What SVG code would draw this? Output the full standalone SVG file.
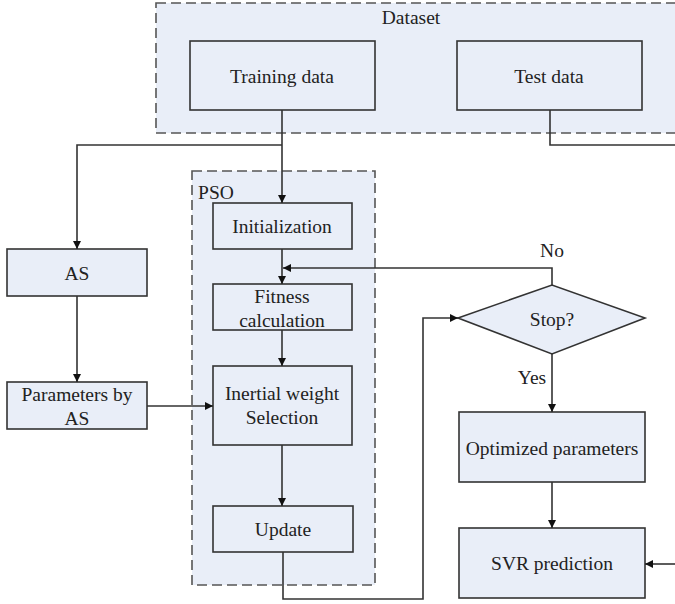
<svg xmlns="http://www.w3.org/2000/svg" width="675" height="604" viewBox="0 0 675 604" font-family="'Liberation Serif', Tinos, 'Times New Roman', 'DejaVu Serif', serif">
<style>
.box{fill:#e9eef8;stroke:#333;stroke-width:1.6}
.grp{fill:#e9eef8;stroke:#555;stroke-width:1.6;stroke-dasharray:10 5}
.ln{fill:none;stroke:#333;stroke-width:1.6}
text{font-family:'Liberation Serif', Tinos, 'Times New Roman', 'DejaVu Serif', serif;font-size:19.5px;fill:#222;text-anchor:middle;dominant-baseline:central}
</style>
<defs>
<marker id="ah" viewBox="0 0 10 10" refX="10" refY="5" markerWidth="8" markerHeight="8" markerUnits="userSpaceOnUse" orient="auto">
<path d="M0,0 L10,5 L0,10 z" fill="#111"/>
</marker>
</defs>
<g id="dataset">
<rect class="grp" x="156" y="3" width="540" height="130"/>
<text x="411" y="17">Dataset</text>
</g>
<g id="pso">
<rect class="grp" x="192" y="171" width="183" height="414"/>
<text x="216" y="192">PSO</text>
</g>
<g id="training"><rect class="box" x="190" y="41" width="185" height="69"/><text x="282" y="76">Training data</text></g>
<g id="test"><rect class="box" x="457" y="41" width="185" height="69"/><text x="549" y="76">Test data</text></g>
<g id="init"><rect class="box" x="213" y="203" width="139" height="46"/><text x="282" y="226">Initialization</text></g>
<g id="fitness"><rect class="box" x="213" y="284" width="139" height="46"/><text x="282" y="296">Fitness</text><text x="282" y="320">calculation</text></g>
<g id="inertial"><rect class="box" x="213" y="366" width="139" height="79"/><text x="282" y="393">Inertial weight</text><text x="282" y="417">Selection</text></g>
<g id="update"><rect class="box" x="213" y="506" width="140" height="46"/><text x="283" y="529">Update</text></g>
<g id="as"><rect class="box" x="7" y="249" width="140" height="47"/><text x="77" y="273">AS</text></g>
<g id="params"><rect class="box" x="7" y="382" width="140" height="47"/><text x="77" y="394">Parameters by</text><text x="77" y="418">AS</text></g>
<g id="stop"><polygon class="box" points="458,318 552,285 645,318 552,354"/><text x="552" y="319">Stop?</text></g>
<g id="optimized"><rect class="box" x="459" y="412" width="186" height="70"/><text x="552" y="448">Optimized parameters</text></g>
<g id="svr"><rect class="box" x="459" y="528" width="186" height="70"/><text x="552" y="563">SVR prediction</text></g>
<g id="connectors">
<path class="ln" d="M282,110 V203" marker-end="url(#ah)"/>
<path class="ln" d="M282,145 H77 V249" marker-end="url(#ah)"/>
<path class="ln" d="M550,110 V145 H675"/>
<path class="ln" d="M282,249 V284" marker-end="url(#ah)"/>
<path class="ln" d="M282,330 V366" marker-end="url(#ah)"/>
<path class="ln" d="M282,445 V506" marker-end="url(#ah)"/>
<path class="ln" d="M77,296 V382" marker-end="url(#ah)"/>
<path class="ln" d="M147,406 H213" marker-end="url(#ah)"/>
<path class="ln" d="M283,552 V599 H423 V318 H458" marker-end="url(#ah)"/>
<path class="ln" d="M552,285 V268 H283" marker-end="url(#ah)"/>
<path class="ln" d="M552,354 V412" marker-end="url(#ah)"/>
<path class="ln" d="M552,482 V528" marker-end="url(#ah)"/>
<path class="ln" d="M675,564 H645" marker-end="url(#ah)"/>
<text x="552" y="250">No</text>
<text x="532" y="377">Yes</text>
</g>
</svg>
